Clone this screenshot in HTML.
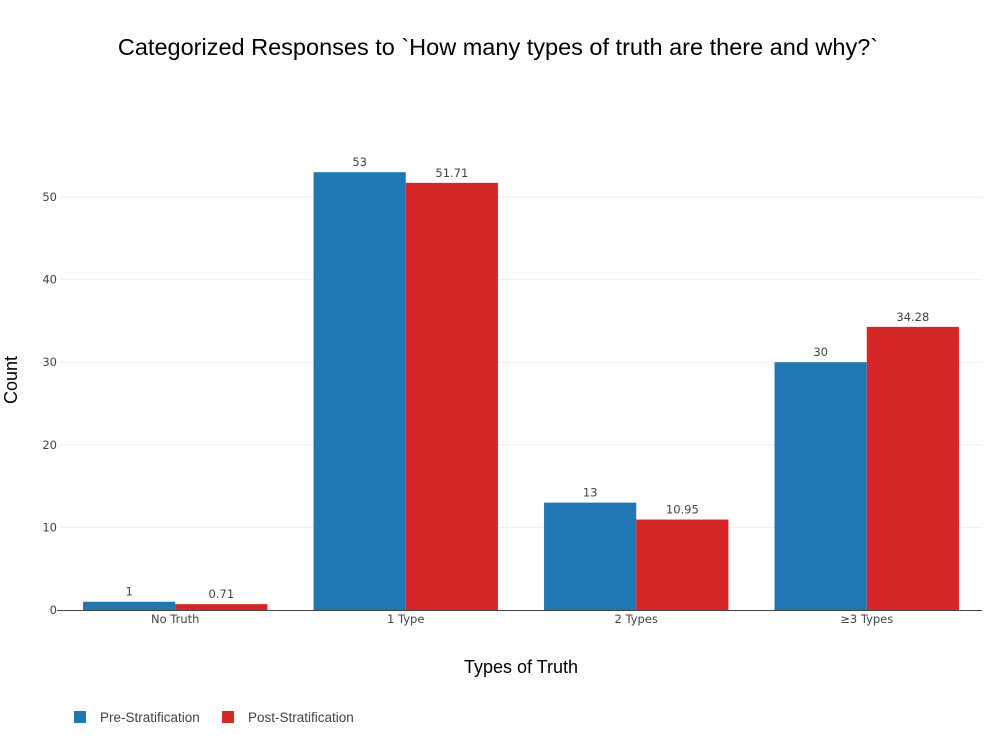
<!DOCTYPE html>
<html><head><meta charset="utf-8"><style>
body{margin:0;background:#fff;width:992px;height:744px;overflow:hidden;font-family:"Liberation Sans",sans-serif}
</style></head><body>
<svg id="chart" width="992" height="744" xmlns="http://www.w3.org/2000/svg"></svg>
<script>
const categories = ["No Truth", "1 Type", "2 Types", "≥3 Types"];
const preValues = [1, 53, 13, 30];
const postValues = [0.71, 51.71, 10.95, 34.28];
const preLabels = ["1", "53", "13", "30"];
const postLabels = ["0.71", "51.71", "10.95", "34.28"];
const yTicks = [0, 10, 20, 30, 40, 50];

const svg = document.getElementById('chart');
const NS = 'http://www.w3.org/2000/svg';
const X0 = 60, X1 = 982, Y0 = 610, PX_PER = 8.26;
const SF = '"DejaVu Sans", sans-serif';
const band = (X1 - X0) / categories.length;
const y = v => Y0 - v * PX_PER;
const xc = i => X0 + band * (i + 0.5);
function mk(tag, attrs, text) {
  const e = document.createElementNS(NS, tag);
  for (const k in attrs) e.setAttribute(k, attrs[k]);
  if (text !== undefined) e.textContent = text;
  svg.appendChild(e);
  return e;
}
let t = mk('text', {x: 498, y: 55, 'text-anchor': 'middle', 'font-size': 23.5, fill: '#000'}, 'Categorized Responses to `How many types of truth are there and why?`');


yTicks.forEach(v => {
  if (v > 0) {
    const g = mk('line', {x1: X0, x2: X1, y1: y(v), y2: y(v), stroke: '#eee', 'stroke-width': 1});
    
    
  }
  const l = mk('text', {x: X0 - 3, y: y(v) + 4, 'text-anchor': 'end', 'font-size': 11.5, 'font-family': SF, fill: '#444'}, String(v));
  
  
});
const bw = band * 0.4;
categories.forEach((c, i) => {
  const cx = xc(i);
  const b1 = mk('rect', {x: cx - bw, y: y(preValues[i]), width: bw, height: Y0 - y(preValues[i]), fill: '#1f77b4'});
  
  
  const b2 = mk('rect', {x: cx, y: y(postValues[i]), width: bw, height: Y0 - y(postValues[i]), fill: '#d62728'});
  
  
  const l1 = mk('text', {x: cx - bw / 2, y: y(preValues[i]) - 6, 'text-anchor': 'middle', 'font-size': 11.5, 'font-family': SF, fill: '#444'}, preLabels[i]);
  
  
  const l2 = mk('text', {x: cx + bw / 2, y: y(postValues[i]) - 6, 'text-anchor': 'middle', 'font-size': 11.5, 'font-family': SF, fill: '#444'}, postLabels[i]);
  
  
  const cl = mk('text', {x: cx, y: Y0 + 13, 'text-anchor': 'middle', 'font-size': 11.5, 'font-family': SF, fill: '#444'}, c);
  
  
});
const ax = mk('line', {x1: X0 - 3, x2: X1, y1: Y0 + 0.5, y2: Y0 + 0.5, stroke: '#444', 'stroke-width': 1});


const xt = mk('text', {x: 521, y: 673, 'text-anchor': 'middle', 'font-size': 18, fill: '#000'}, 'Types of Truth');


const yt = mk('text', {x: 17, y: 380, 'text-anchor': 'middle', 'font-size': 18, fill: '#000', transform: 'rotate(-90 17 380)'}, 'Count');


const s1 = mk('rect', {x: 74, y: 711, width: 12, height: 12, fill: '#1f77b4'});


const lt1 = mk('text', {x: 100, y: 722, 'font-size': 13.5, fill: '#444'}, 'Pre-Stratification');


const s2 = mk('rect', {x: 222, y: 711, width: 12, height: 12, fill: '#d62728'});


const lt2 = mk('text', {x: 248, y: 722, 'font-size': 13.5, fill: '#444'}, 'Post-Stratification');


</script>
</body></html>
